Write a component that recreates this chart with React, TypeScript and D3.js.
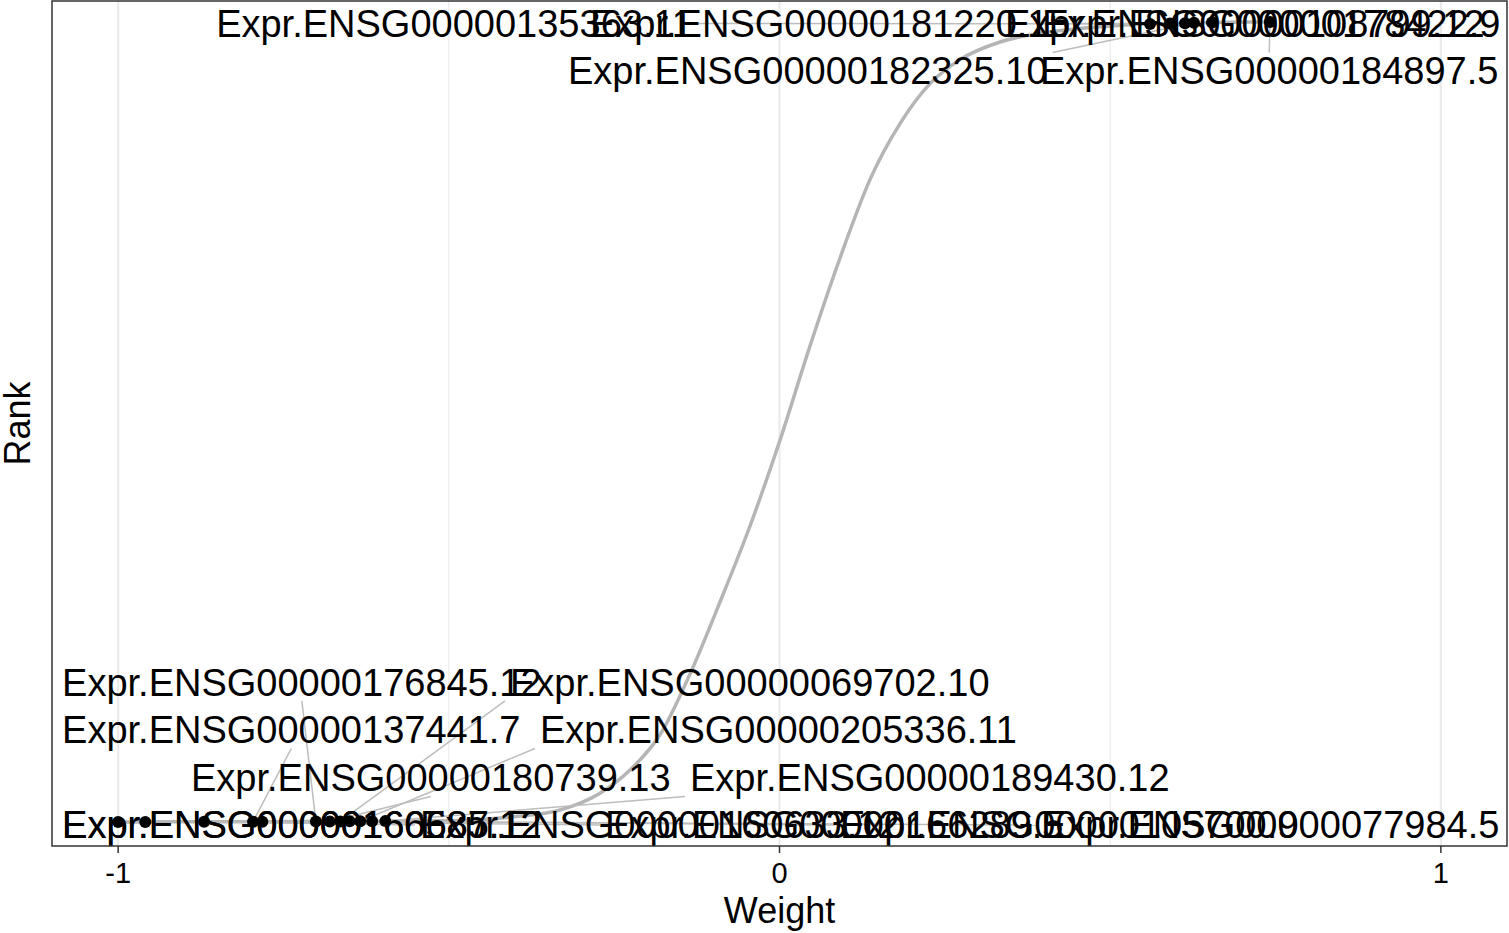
import React, { useEffect, useRef } from "react";
import * as d3 from "d3";

// ranked weights of all genes (gray curve)
const curveWeight = [
  -1.0, -0.959, -0.87, -0.796, -0.782, -0.701, -0.68, -0.664, -0.65, -0.634, -0.616,
  -0.596, -0.4785, -0.403, -0.332, -0.2714, -0.226, -0.1807, -0.1353, -0.09, -0.0446,
  0.0008, 0.0461, 0.0915, 0.1368, 0.1822, 0.2276, 0.2729, 0.3334, 0.409, 0.4846, 0.5602,
  0.5904, 0.6131, 0.6267, 0.6539, 0.7416
];
const curveRank = [
  0, 0.01, 0.02, 0.03, 0.04, 0.05, 0.06, 0.07, 0.08, 0.09, 0.1, 0.11, 0.2, 0.65, 1.5,
  3.6, 6.5, 10.9, 18.5, 27.5, 37, 47.75, 59.5, 70.5, 80.3, 87.3, 92.3, 95.3, 97.5,
  98.75, 99.4, 99.75, 99.8, 99.85, 99.9, 99.95, 100
];

// highlighted genes
const geneIds = [
  "Expr.ENSG00000176845.12",
  "Expr.ENSG00000069702.10",
  "Expr.ENSG00000137441.7",
  "Expr.ENSG00000205336.11",
  "Expr.ENSG00000180739.13",
  "Expr.ENSG00000189430.12",
  "Expr.ENSG00000160685.12",
  "Expr.ENSG00000166587.12",
  "Expr.ENSG00000160633.12",
  "Expr.ENSG00000166289.5",
  "Expr.ENSG00000105700.9",
  "Expr.ENSG00000077984.5",
  "Expr.ENSG00000135363.11",
  "Expr.ENSG00000181220.15",
  "Expr.ENSG00000108799.12",
  "Expr.ENSG00000178422.9",
  "Expr.ENSG00000182325.10",
  "Expr.ENSG00000184897.5"
];
const geneWeight = [
  -0.701, -0.664, -0.796, -0.634, -0.68, -0.596, -1.0, -0.959, -0.87, -0.782, -0.616, -0.65,
  0.5602, 0.5904, 0.6131, 0.6539, 0.6267, 0.7416
];
const geneRank = [
  0.05, 0.07, 0.03, 0.09, 0.06, 0.11, 0, 0.01, 0.02, 0.04, 0.1, 0.08,
  99.75, 99.8, 99.85, 99.95, 99.9, 100
];
// repelled label positions (left edge weight, centre rank)
const labelWeight = [
  -1.0848, -0.4075, -1.0848, -0.3621, -0.8898, -0.1353, -1.0848, -1.0848, -0.5435, -0.2638,
  0.0915, 0.3953, -0.8518, -0.2865, 0.3409, 0.3968, -0.3198, 0.3939
];
const labelRank = [
  17.44, 17.44, 11.5, 11.5, 5.5, 5.5, -0.375, -0.375, -0.375, -0.375, -0.375, -0.375,
  99.81, 99.81, 99.81, 99.81, 93.875, 93.875
];
const xTicks = [-1, 0, 1];
const xGrid = [-1, -0.5, 0, 0.5, 1];

const W = 1509;
const H = 933;
const panel = { left: 52, right: 1507, top: 1, bottom: 846 };
const font = "'Liberation Sans', Arial, sans-serif";

export default function App() {
  const ref = useRef<SVGSVGElement>(null);

  useEffect(() => {
    const svg = d3.select(ref.current);
    svg.selectAll("*").remove();

    const x = d3.scaleLinear().domain([-1.1, 1.1]).range([panel.left, panel.right]);
    const y = d3.scaleLinear().domain([0, 100]).range([822, 22]);

    svg.append("rect").attr("width", W).attr("height", H).attr("fill", "#fff");

    // grid
    svg
      .append("g")
      .selectAll("line")
      .data(xGrid)
      .enter()
      .append("line")
      .attr("x1", d => x(d))
      .attr("x2", d => x(d))
      .attr("y1", panel.top)
      .attr("y2", panel.bottom)
      .attr("stroke", "#ebebeb")
      .attr("stroke-width", d => (Number.isInteger(d) ? 2.2 : 1.2));

    // gray rank curve
    const line = d3
      .line<number>()
      .x((d, i) => x(curveWeight[i]))
      .y(d => y(d))
      .curve(d3.curveMonotoneX);
    svg
      .append("path")
      .attr("d", line(curveRank))
      .attr("fill", "none")
      .attr("stroke", "#b5b5b5")
      .attr("stroke-width", 3.5);

    const segG = svg.append("g");

    // points
    svg
      .append("g")
      .selectAll("circle")
      .data(geneIds)
      .enter()
      .append("circle")
      .attr("cx", (d, i) => x(geneWeight[i]))
      .attr("cy", (d, i) => y(geneRank[i]))
      .attr("r", 6)
      .attr("fill", "#000");

    // labels
    const texts = svg
      .append("g")
      .selectAll("text")
      .data(geneIds)
      .enter()
      .append("text")
      .attr("x", (d, i) => x(labelWeight[i]))
      .attr("y", (d, i) => y(labelRank[i]))
      .attr("dy", "0.35em")
      .attr("font-family", font)
      .attr("font-size", 38)
      .attr("fill", "#000")
      .text(d => d);

    // segments: point to the nearest corner / edge midpoint of the padded label box
    texts.each(function (d, i) {
      const bb = (this as SVGTextElement).getBBox();
      const pad = 5;
      const cy = y(labelRank[i]);
      const x0 = bb.x - pad,
        x1 = bb.x + bb.width + pad,
        y0 = cy - 13.5 - pad,
        y1 = cy + 13.5 + pad;
      const px = x(geneWeight[i]),
        py = y(geneRank[i]);
      if (px >= x0 && px <= x1 && py >= y0 && py <= y1) return;
      const xm = (x0 + x1) / 2,
        ym = (y0 + y1) / 2;
      const cands = [
        [x0, y0], [xm, y0], [x1, y0],
        [x0, ym], [x1, ym],
        [x0, y1], [xm, y1], [x1, y1]
      ];
      const best = d3.least(cands, c => Math.hypot(c[0] - px, c[1] - py))!;
      if (Math.hypot(best[0] - px, best[1] - py) < 8) return;
      segG
        .append("line")
        .attr("x1", px)
        .attr("y1", py)
        .attr("x2", best[0])
        .attr("y2", best[1])
        .attr("stroke", "#bdbdbd")
        .attr("stroke-width", 1.5);
    });

    // panel border
    svg
      .append("rect")
      .attr("x", panel.left)
      .attr("y", panel.top)
      .attr("width", panel.right - panel.left)
      .attr("height", panel.bottom - panel.top)
      .attr("fill", "none")
      .attr("stroke", "#333")
      .attr("stroke-width", 1.5);

    // x axis
    const axis = svg.append("g");
    axis
      .selectAll("line")
      .data(xTicks)
      .enter()
      .append("line")
      .attr("x1", d => x(d))
      .attr("x2", d => x(d))
      .attr("y1", panel.bottom)
      .attr("y2", panel.bottom + 7)
      .attr("stroke", "#333")
      .attr("stroke-width", 1.5);
    axis
      .selectAll("text")
      .data(xTicks)
      .enter()
      .append("text")
      .attr("x", d => x(d))
      .attr("y", 883)
      .attr("text-anchor", "middle")
      .attr("font-family", font)
      .attr("font-size", 29)
      .attr("fill", "#000")
      .text(d => (d < 0 ? "-" + Math.abs(d) : String(d)));

    svg
      .append("text")
      .attr("x", (panel.left + panel.right) / 2)
      .attr("y", 923)
      .attr("text-anchor", "middle")
      .attr("font-family", font)
      .attr("font-size", 36)
      .attr("fill", "#000")
      .text("Weight");

    svg
      .append("text")
      .attr("transform", `translate(30,${(panel.top + panel.bottom) / 2}) rotate(-90)`)
      .attr("text-anchor", "middle")
      .attr("font-family", font)
      .attr("font-size", 36)
      .attr("fill", "#000")
      .text("Rank");
  }, []);

  return (
    <svg
      ref={ref}
      width={W}
      height={H}
      style={{ position: "absolute", left: 0, top: 0, display: "block" }}
    />
  );
}
